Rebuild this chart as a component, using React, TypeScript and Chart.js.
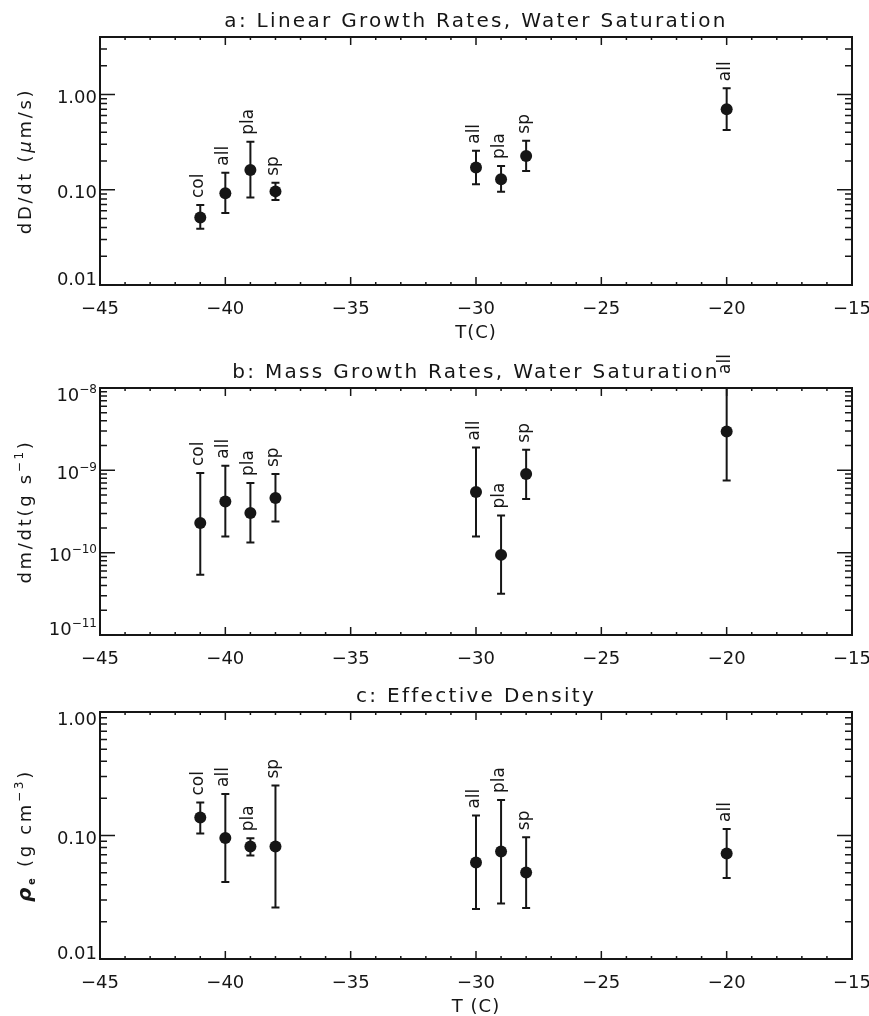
import React, { useEffect, useRef } from 'react';
import { Chart, registerables } from 'chart.js';

Chart.register(...registerables);

// ---------------- data ----------------
const temperatures = [-41, -40, -39, -38, -30, -29, -28, -20];
const habitLabels = ['col', 'all', 'pla', 'sp', 'all', 'pla', 'sp', 'all'];

// a: linear growth rate dD/dt (µm/s)
const linearRate = [0.051, 0.092, 0.161, 0.096, 0.171, 0.129, 0.226, 0.7];
const linearLow = [0.039, 0.057, 0.083, 0.078, 0.114, 0.095, 0.157, 0.423];
const linearHigh = [0.069, 0.151, 0.319, 0.118, 0.256, 0.177, 0.327, 1.16];

// b: mass growth rate dm/dt (g/s)
const massRate = [2.29e-10, 4.19e-10, 3.03e-10, 4.6e-10, 5.45e-10, 9.4e-11, 9.0e-10, 2.97e-9];
const massLow = [5.4e-11, 1.57e-10, 1.33e-10, 2.39e-10, 1.57e-10, 3.16e-11, 4.48e-10, 7.55e-10];
const massHigh = [9.27e-10, 1.14e-9, 7.0e-10, 9.0e-10, 1.9e-9, 2.83e-10, 1.78e-9, 1.22e-8];

// c: effective density (g/cm3)
const density = [0.14, 0.0953, 0.0815, 0.0815, 0.0605, 0.0743, 0.0502, 0.0715];
const densityLow = [0.104, 0.042, 0.069, 0.0261, 0.0254, 0.0282, 0.0259, 0.0452];
const densityHigh = [0.185, 0.217, 0.095, 0.254, 0.145, 0.194, 0.097, 0.113];

// axes
const xMin = -45;
const xMax = -15;
const xMajorTicks = [-45, -40, -35, -30, -25, -20, -15];
const xTickLabels = ['−45', '−40', '−35', '−30', '−25', '−20', '−15'];
const xMinorTicks = [-44, -43, -42, -41, -39, -38, -37, -36, -34, -33, -32, -31, -29, -28, -27, -26, -24, -23, -22, -21, -19, -18, -17, -16];

const linearYTicks = [0.01, 0.1, 1];
const linearYTickLabels = ['0.01', '0.10', '1.00'];
const massYTicks = [1e-11, 1e-10, 1e-9, 1e-8];
const massYTickExponents = ['−11', '−10', '−9', '−8'];
const densityYTicks = [0.01, 0.1, 1];
const densityYTickLabels = ['0.01', '0.10', '1.00'];

// ---------------- styling ----------------
const INK = '#161616';
const FAM = '"DejaVu Sans", sans-serif';
const F18 = `18px ${FAM}`;
const F12 = `12px ${FAM}`;
const X_SCALE_H = 45;

type Seg = { text: string; font: string; dy?: number };

interface PanelCfg {
  top: number;
  height: number;
  padTop: number;
  padBottom: number;
  title: string;
  xTitle?: string;
  yMin: number;
  yMax: number;
  yTicks: number[];
  yLabels: Seg[][];
  yTitle: Seg[];
  values: number[];
  low: number[];
  high: number[];
}

const panels: PanelCfg[] = [
  {
    top: 0,
    height: 345,
    padTop: 37,
    padBottom: 15,
    title: 'a: Linear Growth Rates, Water Saturation',
    xTitle: 'T(C)',
    yMin: 0.01,
    yMax: 4,
    yTicks: linearYTicks,
    yLabels: linearYTickLabels.map((t) => [{ text: t, font: F18 }]),
    yTitle: [
      { text: 'dD/dt (', font: F18 },
      { text: 'μ', font: `italic ${F18}` },
      { text: 'm/s)', font: F18 },
    ],
    values: linearRate,
    low: linearLow,
    high: linearHigh,
  },
  {
    top: 345,
    height: 340,
    padTop: 43,
    padBottom: 5,
    title: 'b: Mass Growth Rates, Water Saturation',
    yMin: 1e-11,
    yMax: 1e-8,
    yTicks: massYTicks,
    yLabels: massYTickExponents.map((e) => [
      { text: '10', font: F18 },
      { text: e, font: F12, dy: -8 },
    ]),
    yTitle: [
      { text: 'dm/dt(g s', font: F18 },
      { text: '−1', font: F12, dy: -8 },
      { text: ')', font: F18 },
    ],
    values: massRate,
    low: massLow,
    high: massHigh,
  },
  {
    top: 685,
    height: 331,
    padTop: 27,
    padBottom: 12,
    title: 'c: Effective Density',
    xTitle: 'T (C)',
    yMin: 0.01,
    yMax: 1,
    yTicks: densityYTicks,
    yLabels: densityYTickLabels.map((t) => [{ text: t, font: F18 }]),
    yTitle: [
      { text: 'ρ', font: `italic bold 20px ${FAM}` },
      { text: 'e', font: `bold 10px ${FAM}`, dy: 4 },
      { text: ' (g cm', font: F18 },
      { text: '−3', font: F12, dy: -8 },
      { text: ')', font: F18 },
    ],
    values: density,
    low: densityLow,
    high: densityHigh,
  },
];

function setSpacing(ctx: any, px: number) {
  try {
    ctx.letterSpacing = `${px}px`;
  } catch (e) {
    /* ignore */
  }
}

function segWidth(ctx: CanvasRenderingContext2D, segs: Seg[], spacing: number) {
  let w = 0;
  for (const s of segs) {
    ctx.font = s.font;
    setSpacing(ctx, spacing);
    w += ctx.measureText(s.text).width;
  }
  return w;
}

function drawSegs(ctx: CanvasRenderingContext2D, segs: Seg[], x: number, y: number, spacing: number) {
  let cx = x;
  for (const s of segs) {
    ctx.font = s.font;
    setSpacing(ctx, spacing);
    ctx.fillText(s.text, cx, y + (s.dy || 0));
    cx += ctx.measureText(s.text).width;
  }
}

function logMinorTicks(min: number, max: number) {
  const out: number[] = [];
  for (let d = Math.floor(Math.log10(min)); d <= Math.ceil(Math.log10(max)); d++) {
    for (let m = 2; m <= 9; m++) {
      const v = m * Math.pow(10, d);
      if (v > min * 1.0001 && v < max * 0.9999) out.push(v);
    }
  }
  return out;
}

function makePlugin(cfg: PanelCfg) {
  return {
    id: 'panelDecor',
    beforeDatasetsDraw(chart: any) {
      const { ctx, chartArea: a } = chart;
      const xs = chart.scales.x;
      const ys = chart.scales.y;
      ctx.save();
      ctx.beginPath();
      ctx.rect(a.left, a.top, a.right - a.left, a.bottom - a.top);
      ctx.clip();
      ctx.strokeStyle = INK;
      ctx.lineWidth = 2;
      temperatures.forEach((t, i) => {
        const px = xs.getPixelForValue(t);
        const pLo = ys.getPixelForValue(cfg.low[i]);
        const pHi = ys.getPixelForValue(cfg.high[i]);
        ctx.beginPath();
        ctx.moveTo(px, pLo);
        ctx.lineTo(px, pHi);
        ctx.moveTo(px - 4, pLo);
        ctx.lineTo(px + 4, pLo);
        ctx.moveTo(px - 4, pHi);
        ctx.lineTo(px + 4, pHi);
        ctx.stroke();
      });
      ctx.restore();
    },
    afterDraw(chart: any) {
      const { ctx, chartArea: a } = chart;
      const xs = chart.scales.x;
      const ys = chart.scales.y;
      ctx.save();
      ctx.fillStyle = INK;
      ctx.strokeStyle = INK;

      // habit labels (rotated)
      ctx.font = `17px ${FAM}`;
      setSpacing(ctx, 0);
      ctx.textAlign = 'left';
      ctx.textBaseline = 'alphabetic';
      temperatures.forEach((t, i) => {
        const px = xs.getPixelForValue(t);
        const pHi = ys.getPixelForValue(cfg.high[i]);
        ctx.save();
        ctx.translate(px + 3, pHi - 7);
        ctx.rotate(-Math.PI / 2);
        ctx.fillText(habitLabels[i], 0, 0);
        ctx.restore();
      });

      // box
      ctx.lineWidth = 2;
      ctx.strokeRect(a.left, a.top, a.right - a.left, a.bottom - a.top);

      // ticks
      ctx.lineWidth = 1.5;
      ctx.beginPath();
      const xTick = (v: number, len: number) => {
        const px = xs.getPixelForValue(v);
        ctx.moveTo(px, a.bottom);
        ctx.lineTo(px, a.bottom - len);
        ctx.moveTo(px, a.top);
        ctx.lineTo(px, a.top + len);
      };
      xMajorTicks.forEach((v) => xTick(v, 8));
      xMinorTicks.forEach((v) => xTick(v, 3));
      const yTick = (v: number, len: number) => {
        const py = ys.getPixelForValue(v);
        ctx.moveTo(a.left, py);
        ctx.lineTo(a.left + len, py);
        ctx.moveTo(a.right, py);
        ctx.lineTo(a.right - len, py);
      };
      cfg.yTicks.forEach((v) => yTick(v, 15));
      logMinorTicks(cfg.yMin, cfg.yMax).forEach((v) => yTick(v, 7));
      ctx.stroke();

      // y tick labels
      ctx.textAlign = 'left';
      ctx.textBaseline = 'alphabetic';
      cfg.yTicks.forEach((v, i) => {
        const py = ys.getPixelForValue(v);
        const c = Math.min(Math.max(py + 2, a.top + 6.5), a.bottom - 6.5);
        const segs = cfg.yLabels[i];
        const w = segWidth(ctx, segs, 0);
        drawSegs(ctx, segs, a.left - 3 - w, c + 6.5, 0);
      });

      // title
      const cx = (a.left + a.right) / 2;
      ctx.font = `20px ${FAM}`;
      setSpacing(ctx, 2.3);
      const tw = ctx.measureText(cfg.title).width;
      ctx.fillText(cfg.title, cx - tw / 2, a.top - 10);

      // x title
      if (cfg.xTitle) {
        ctx.font = F18;
        setSpacing(ctx, 1);
        const xw = ctx.measureText(cfg.xTitle).width;
        ctx.fillText(cfg.xTitle, cx - xw / 2, a.bottom + 53);
      }

      // y title (rotated)
      const yw = segWidth(ctx, cfg.yTitle, 2.7);
      ctx.save();
      ctx.translate(31, (a.top + a.bottom) / 2);
      ctx.rotate(-Math.PI / 2);
      drawSegs(ctx, cfg.yTitle, -yw / 2, 0, 2.7);
      ctx.restore();

      setSpacing(ctx, 0);
      ctx.restore();
    },
  };
}

function Panel({ cfg }: { cfg: PanelCfg }) {
  const ref = useRef<HTMLCanvasElement | null>(null);
  useEffect(() => {
    if (!ref.current) return;
    const chart = new Chart(ref.current, {
      type: 'scatter',
      data: {
        datasets: [
          {
            data: temperatures.map((t, i) => ({ x: t, y: cfg.values[i] })),
            pointRadius: 6,
            pointHoverRadius: 6,
            pointBackgroundColor: INK,
            pointBorderWidth: 0,
            borderWidth: 0,
          },
        ],
      },
      options: {
        responsive: false,
        animation: false,
        devicePixelRatio: 1,
        events: [],
        layout: {
          autoPadding: false,
          padding: { left: 10, right: 17, top: cfg.padTop, bottom: cfg.padBottom },
        },
        plugins: {
          legend: { display: false },
          tooltip: { enabled: false },
          title: { display: false },
        },
        scales: {
          x: {
            type: 'linear',
            min: xMin,
            max: xMax,
            grid: { display: false, drawTicks: false },
            border: { display: false },
            afterBuildTicks: (s: any) => {
              s.ticks = xMajorTicks.map((v) => ({ value: v }));
            },
            afterFit: (s: any) => {
              s.height = X_SCALE_H;
              s.paddingLeft = 0;
              s.paddingRight = 0;
            },
            ticks: {
              color: INK,
              font: { family: 'DejaVu Sans', size: 18 },
              padding: 14,
              maxRotation: 0,
              minRotation: 0,
              autoSkip: false,
              callback: (v: any) => xTickLabels[xMajorTicks.indexOf(Number(v))],
            },
          },
          y: {
            type: 'logarithmic',
            min: cfg.yMin,
            max: cfg.yMax,
            grid: { display: false, drawTicks: false },
            border: { display: false },
            ticks: { display: false },
            afterFit: (s: any) => {
              s.width = 90;
              s.paddingTop = 0;
              s.paddingBottom = 0;
            },
          },
        },
      } as any,
      plugins: [makePlugin(cfg)],
    });
    return () => chart.destroy();
  }, [cfg]);
  return (
    <canvas
      ref={ref}
      width={869}
      height={cfg.height}
      style={{ position: 'absolute', left: 0, top: cfg.top, width: 869, height: cfg.height }}
    />
  );
}

export default function App() {
  return (
    <div style={{ position: 'absolute', left: 0, top: 0, width: 869, height: 1016, background: '#fff' }}>
      {panels.map((p, i) => (
        <Panel key={i} cfg={p} />
      ))}
    </div>
  );
}
